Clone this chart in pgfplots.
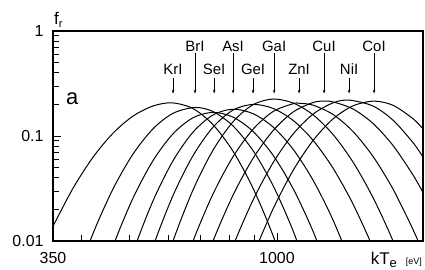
\documentclass[border=0pt]{standalone}
\usepackage{fontspec}
\setmainfont{Liberation Sans}
\usepackage{pgfplots}
\pgfplotsset{compat=1.18}
\usetikzlibrary{arrows.meta}

\begin{document}
\begin{tikzpicture}
\begin{axis}[
  name=ax,
  scale only axis, width=370bp, height=210bp,
  at={(0,0)}, anchor=south west,
  xmode=log, ymode=log,
  xmin=350, xmax=1984, ymin=0.01, ymax=1,
  axis line style={line width=1.1pt},
  xtick={350,1000}, xticklabels={350,1000},
  minor xtick={400,500,600,700,800,900},
  ytick={0.01,0.1,1}, yticklabels={0.01,0.1,1},
  minor ytick={0.02,0.03,0.04,0.05,0.06,0.07,0.08,0.09,0.2,0.3,0.4,0.5,0.6,0.7,0.8,0.9},
  tick pos=left,
  tick align=inside,
  major tick length=8bp, minor tick length=6bp,
  tick style={line width=0.8pt, black},
  ticklabel style={font=\fontsize{16}{16}\selectfont},
  xticklabel style={yshift=-8bp},
  yticklabel style={xshift=-6bp},
  curve/.style={black, solid, line width=1pt, smooth, mark=none},
]
% KrI
\addplot[curve] coordinates {(350,0.01382) (384.4,0.03181) (422.2,0.06281) (463.7,0.1064) (509.3,0.1548) (559.4,0.1932) (611.5,0.2070) (674.8,0.1825) (741.1,0.1281) (814.0,0.07154) (894.0,0.03180) (981.9,0.01125) (1078.5,0.003166)};
% BrI
\addplot[curve] coordinates {(384.4,0.003584) (422.2,0.01179) (463.7,0.03134) (509.3,0.06735) (559.4,0.1171) (614.4,0.1645) (681.1,0.1871) (741.1,0.1708) (814.0,0.1246) (894.0,0.07254) (981.9,0.03372) (1078.5,0.01251) (1184.5,0.003708)};
% SeI
\addplot[curve] coordinates {(422.2,0.002449) (463.7,0.008913) (509.3,0.02564) (559.4,0.05834) (614.4,0.1050) (674.8,0.1493) (741.1,0.1679) (814.0,0.1513) (894.0,0.1106) (981.9,0.06563) (1078.5,0.03162) (1184.5,0.01236) (1301.0,0.003922)};
% AsI
\addplot[curve] coordinates {(463.7,0.001967) (509.3,0.007816) (559.4,0.02417) (614.4,0.05817) (674.8,0.1089) (741.1,0.1587) (814.0,0.1799) (894.0,0.1632) (981.9,0.1219) (1078.5,0.07495) (1184.5,0.03795) (1301.0,0.01581) (1428.9,0.005425)};
% GeI
\addplot[curve] coordinates {(509.3,0.002238) (559.4,0.008831) (614.4,0.02716) (674.8,0.06504) (741.1,0.1214) (814.0,0.1765) (894.0,0.2000) (981.9,0.1832) (1078.5,0.1409) (1184.5,0.09099) (1301.0,0.04932) (1428.9,0.02244) (1569.4,0.00857) (1723.7,0.002748)};
% GaI
\addplot[curve] coordinates {(559.4,0.002542) (614.4,0.01) (674.8,0.03067) (741.1,0.07333) (814.0,0.1367) (894.0,0.1986) (981.9,0.2249) (1078.5,0.2063) (1184.5,0.1592) (1301.0,0.1033) (1428.9,0.05636) (1569.4,0.02588) (1723.7,0.01) (1893.1,0.003248)};
% ZnI
\addplot[curve] coordinates {(614.4,0.002869) (674.8,0.00999) (741.1,0.02806) (814.0,0.06356) (894.0,0.1161) (981.9,0.1710) (1078.5,0.2031) (1109.4,0.2051) (1184.5,0.1968) (1301.0,0.1603) (1428.9,0.1102) (1569.4,0.06381) (1723.7,0.03117) (1893.1,0.01284) (1984.0,0.007729)};
% CuI
\addplot[curve] coordinates {(674.8,0.002999) (741.1,0.01) (814.0,0.02734) (894.0,0.06125) (981.9,0.1124) (1078.5,0.1691) (1184.5,0.2084) (1247.2,0.2148) (1301.0,0.2112) (1428.9,0.1808) (1569.4,0.1315) (1723.7,0.08114) (1893.1,0.04252) (1984.0,0.02895)};
% NiI
\addplot[curve] coordinates {(741.1,0.0027) (814.0,0.008954) (894.0,0.02455) (981.9,0.05564) (1078.5,0.1043) (1184.5,0.1615) (1301.0,0.2068) (1402.7,0.2198) (1569.4,0.1928) (1723.7,0.1414) (1893.1,0.0864) (1984.0,0.06308)};
% CoI
\addplot[curve] coordinates {(814.0,0.002138) (894.0,0.007205) (981.9,0.02018) (1078.5,0.04691) (1184.5,0.09064) (1301.0,0.1455) (1428.9,0.1939) (1576.8,0.2148) (1723.7,0.196) (1893.1,0.1461) (1984.0,0.1169)};

% arrows: lower row
\foreach \xx/\lab in {614.4/KrI, 745/SeI, 894/GeI, 1109.4/ZnI, 1402.7/NiI}{
  \edef\tmp{\noexpand\draw[line width=0.6pt,-{Stealth[length=4pt,width=2.6pt]}] (axis cs:\xx,0.357) -- (axis cs:\xx,0.253);
  \noexpand\node[anchor=base, inner sep=0pt, font=\noexpand\fontsize{15}{15}\noexpand\selectfont] at (axis cs:\xx,0.389) {\lab};}
  \tmp
}
% arrows: upper row
\foreach \xx/\lab in {681.1/BrI, 814.0/AsI, 987/GaI, 1247.2/CuI, 1576.8/CoI}{
  \edef\tmp{\noexpand\draw[line width=0.6pt,-{Stealth[length=4pt,width=2.6pt]}] (axis cs:\xx,0.617) -- (axis cs:\xx,0.253);
  \noexpand\node[anchor=base, inner sep=0pt, font=\noexpand\fontsize{15}{15}\noexpand\selectfont] at (axis cs:\xx,0.645) {\lab};}
  \tmp
}
\end{axis}
\node[anchor=base west, inner sep=0pt] at (13bp,136bp) {\fontsize{22}{22}\selectfont a};
\node[anchor=base west, inner sep=0pt] at (1bp,216bp) {\fontsize{17}{17}\selectfont f\raisebox{-3bp}{\fontsize{11}{11}\selectfont r}};
\node[anchor=base east, inner sep=0pt] at (369bp,-23bp) {\fontsize{17}{17}\selectfont kT\raisebox{-3bp}{\fontsize{13}{13}\selectfont e}\hspace{9bp}\fontsize{9}{9}\selectfont[eV]};
\pgfresetboundingbox
\path (-53bp,-29bp) rectangle (372bp,241bp);
\end{tikzpicture}
\end{document}
